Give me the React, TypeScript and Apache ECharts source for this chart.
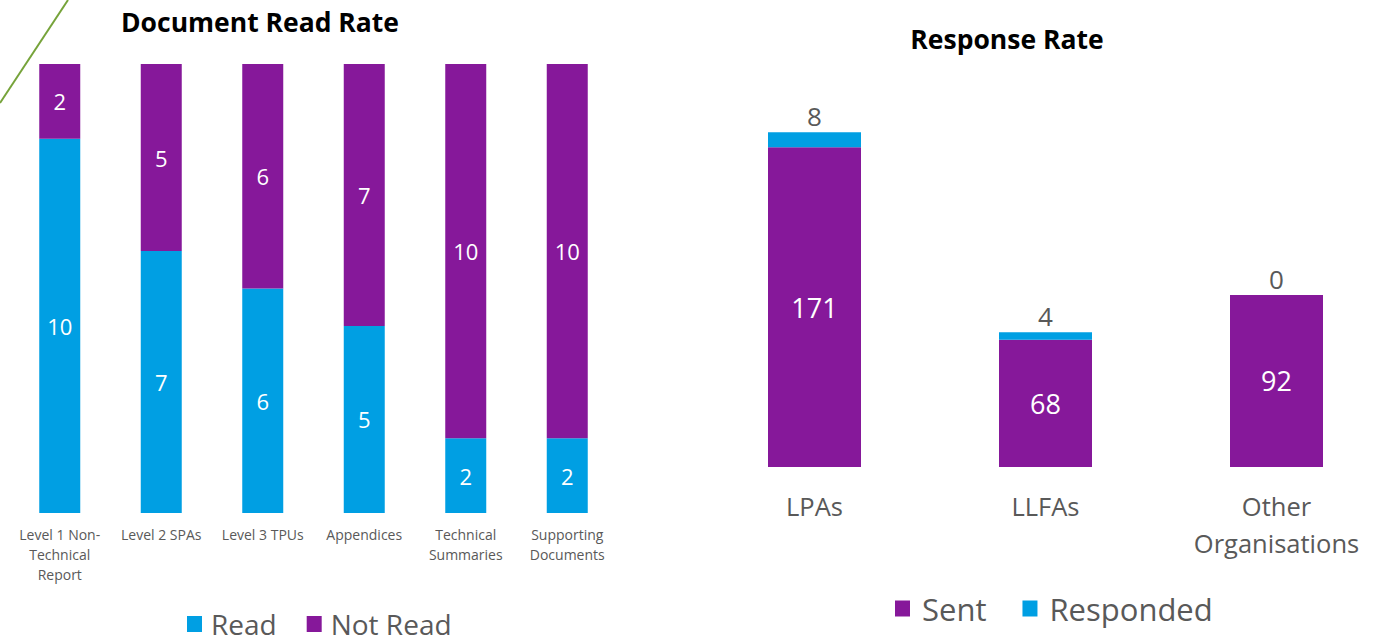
import React, { useEffect, useRef } from "react";
import * as echarts from "echarts";

const docCategories = [
  "Level 1 Non-\nTechnical\nReport",
  "Level 2 SPAs",
  "Level 3 TPUs",
  "Appendices",
  "Technical\nSummaries",
  "Supporting\nDocuments",
];
const readValues = [10, 7, 6, 5, 2, 2];
const notReadValues = [2, 5, 6, 7, 10, 10];

const orgCategories = ["LPAs", "LLFAs", "Other\nOrganisations"];
const sentValues = [171, 68, 92];
const respondedValues = [8, 4, 0];

const BLUE = "#009FE3";
const PURPLE = "#86189A";
const GRAY = "#595959";
const FONT = "Open Sans";

export default function App() {
  const ref = useRef<HTMLDivElement>(null);
  useEffect(() => {
    if (!ref.current) return;
    const chart = echarts.init(ref.current, null, { renderer: "svg" });
    chart.setOption({
      animation: false,
      textStyle: { fontFamily: FONT },
      title: [
        {
          text: "Document Read Rate",
          left: 255,
          top: 3,
          textAlign: "center",
          textStyle: { fontFamily: FONT, fontSize: 26.5, fontWeight: "bold", color: "#000" },
        },
        {
          text: "Response Rate",
          left: 1002,
          top: 20,
          textAlign: "center",
          textStyle: { fontFamily: FONT, fontSize: 26.5, fontWeight: "bold", color: "#000" },
        },
      ],
      legend: [
        {
          data: ["Read", "Not Read"],
          left: 187,
          top: 610,
          padding: 0,
          itemWidth: 15,
          itemHeight: 16,
          itemGap: 30,
          icon: "rect",
          textStyle: {
            fontFamily: FONT,
            fontSize: 28,
            lineHeight: 28,
            color: GRAY,
            padding: [0, 0, 0, 4],
          },
        },
        {
          data: ["Sent", "Responded"],
          left: 895,
          top: 593,
          padding: 0,
          itemWidth: 15,
          itemHeight: 16,
          itemGap: 36,
          icon: "rect",
          textStyle: {
            fontFamily: FONT,
            fontSize: 31,
            lineHeight: 31,
            color: GRAY,
            padding: [0, 0, 0, 7],
          },
        },
      ],
      grid: [
        { left: 9, top: 64, width: 609, height: 449 },
        { left: 699, top: 93, width: 693, height: 374 },
      ],
      xAxis: [
        {
          type: "category",
          gridIndex: 0,
          data: docCategories,
          axisLine: { show: false },
          axisTick: { show: false },
          axisLabel: {
            color: GRAY,
            fontFamily: FONT,
            fontSize: 14,
            lineHeight: 20,
            margin: 11,
            interval: 0,
          },
        },
        {
          type: "category",
          gridIndex: 1,
          data: orgCategories,
          axisLine: { show: false },
          axisTick: { show: false },
          axisLabel: {
            color: GRAY,
            fontFamily: FONT,
            fontSize: 25.5,
            lineHeight: 37,
            margin: 20,
            interval: 0,
          },
        },
      ],
      yAxis: [
        { type: "value", gridIndex: 0, min: 0, max: 12, show: false, splitLine: { show: false } },
        { type: "value", gridIndex: 1, min: 0, max: 200, show: false, splitLine: { show: false } },
      ],
      series: [
        {
          name: "Read",
          type: "bar",
          stack: "doc",
          xAxisIndex: 0,
          yAxisIndex: 0,
          data: readValues,
          barWidth: 41,
          itemStyle: { color: BLUE },
          label: { show: true, position: "inside", color: "#fff", fontSize: 22, fontFamily: FONT },
        },
        {
          name: "Not Read",
          type: "bar",
          stack: "doc",
          xAxisIndex: 0,
          yAxisIndex: 0,
          data: notReadValues,
          barWidth: 41,
          itemStyle: { color: PURPLE },
          label: { show: true, position: "inside", color: "#fff", fontSize: 22, fontFamily: FONT },
        },
        {
          name: "Sent",
          type: "bar",
          stack: "org",
          xAxisIndex: 1,
          yAxisIndex: 1,
          data: sentValues,
          barWidth: 93,
          itemStyle: { color: PURPLE },
          label: { show: true, position: "inside", color: "#fff", fontSize: 27, fontFamily: FONT },
        },
        {
          name: "Responded",
          type: "bar",
          stack: "org",
          xAxisIndex: 1,
          yAxisIndex: 1,
          data: respondedValues,
          barWidth: 93,
          itemStyle: { color: BLUE },
          label: { show: true, position: "top", color: GRAY, fontSize: 26, fontFamily: FONT, distance: 3 },
        },
      ],
      graphic: [
        {
          type: "line",
          shape: { x1: 0, y1: 103, x2: 68, y2: 0 },
          style: { stroke: "#76A33A", lineWidth: 2 },
        },
      ],
    });
    return () => chart.dispose();
  }, []);
  return (
    <div
      ref={ref}
      style={{ position: "fixed", left: 0, top: 0, width: 1400, height: 642, background: "#fff" }}
    />
  );
}
